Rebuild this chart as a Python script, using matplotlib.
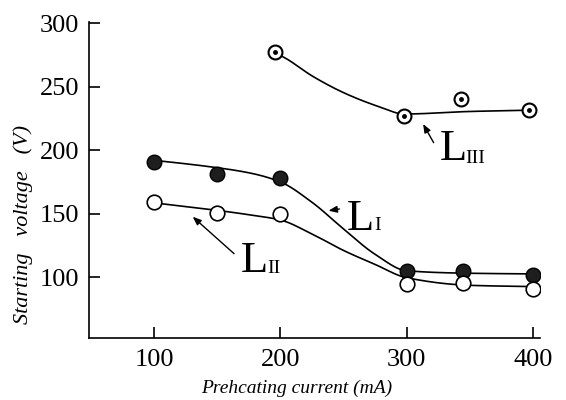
import numpy as np
import matplotlib
matplotlib.use("Agg")
import matplotlib.pyplot as plt

# ==============================
# DATA
# ==============================

# measured points
l1_x = [100, 150, 200, 300, 345, 400]
l1_y = [191, 181, 178, 105, 105, 101.5]

l2_x = [100, 150, 200, 300, 345, 400]
l2_y = [159.5, 150.5, 149.5, 94.5, 95, 90.5]

l3_x = [196, 298, 343, 397]
l3_y = [277, 227, 240, 231.5]

# hand-drawn fit curves, read at a few x positions
l1_curve_x = [100, 140, 176, 200, 225, 250, 275, 300, 350, 400]
l1_curve_y = [192, 187.5, 182, 175, 159, 138, 118, 105, 103, 102.5]

l2_curve_x = [100, 147, 176, 200, 225, 250, 275, 300, 350, 400]
l2_curve_y = [158.5, 153, 149, 145, 134, 121, 110, 99.5, 93.5, 92.5]

l3_curve_x = [196, 205, 226, 253, 279, 298, 350, 397]
l3_curve_y = [277, 272, 258, 244, 234, 228.5, 230.5, 231.5]

x_ticks = [100, 200, 300, 400]
y_ticks = [100, 150, 200, 250, 300]

FONT = "Liberation Serif"
plt.rcParams["font.family"] = FONT


def smooth(xs, ys, n=400):
    # monotone cubic (PCHIP) through the read positions, only for drawing
    xs = np.asarray(xs, float)
    ys = np.asarray(ys, float)
    h = np.diff(xs)
    d = np.diff(ys) / h
    m = np.zeros_like(ys)
    for k in range(1, len(xs) - 1):
        if d[k - 1] * d[k] > 0:
            w1 = 2 * h[k] + h[k - 1]
            w2 = h[k] + 2 * h[k - 1]
            m[k] = (w1 + w2) / (w1 / d[k - 1] + w2 / d[k])
    m[0] = d[0]
    m[-1] = d[-1]
    gx = np.linspace(xs[0], xs[-1], n)
    idx = np.clip(np.searchsorted(xs, gx) - 1, 0, len(xs) - 2)
    t = (gx - xs[idx]) / h[idx]
    h00 = 2 * t ** 3 - 3 * t ** 2 + 1
    h10 = t ** 3 - 2 * t ** 2 + t
    h01 = -2 * t ** 3 + 3 * t ** 2
    h11 = t ** 3 - t ** 2
    gy = (h00 * ys[idx] + h10 * h[idx] * m[idx]
          + h01 * ys[idx + 1] + h11 * h[idx] * m[idx + 1])
    return gx, gy


# ==============================
# FIGURE
# ==============================

fig = plt.figure(figsize=(5.66, 4.0), dpi=100)
ax = fig.add_axes([0.157, 0.155, 0.797, 0.79])

ax.set_xlim(48.4, 405.6)
ax.set_ylim(52, 301)

for name in ("top", "right"):
    ax.spines[name].set_visible(False)
for name in ("left", "bottom"):
    ax.spines[name].set_linewidth(1.2)

ax.set_xticks(x_ticks)
ax.set_yticks(y_ticks)
ax.tick_params(direction="in", length=8, width=1.2, labelsize=19)
ax.tick_params(axis="x", pad=8)
ax.tick_params(axis="y", pad=7)

# curves
for cx, cy in ((l1_curve_x, l1_curve_y), (l2_curve_x, l2_curve_y),
               (l3_curve_x, l3_curve_y)):
    sx, sy = smooth(cx, cy)
    ax.plot(sx, sy, color="black", lw=1.2, zorder=2)

# markers
ax.plot(l1_x, l1_y, "o", ms=10.5, mfc="#1e1e1e", mec="black", mew=1.0, zorder=3)
ax.plot(l2_x, l2_y, "o", ms=10.5, mfc="white", mec="black", mew=1.2, zorder=3)
ax.plot(l3_x, l3_y, "o", ms=10, mfc="white", mec="black", mew=1.5, zorder=3)
ax.plot(l3_x, l3_y, "o", ms=2.5, color="black", zorder=4)

# ==============================
# CURVE LABELS
# ==============================

arrow = dict(arrowstyle="-|>,head_length=0.5,head_width=0.2", color="black", lw=1.0)

labels = [
    # (L x, L y, sub x, sub y, sub text, arrow tail, arrow head)
    (253, 137, 274.5, 137, "I", (249, 154), (236, 152)),
    (168.7, 104, 190, 103, "II", (165, 117), (129, 149)),
    (326.5, 192, 346.5, 190, "III", (322.5, 204), (312, 222.5)),
]
for lx, ly, sx, sy, sub, tail, head in labels:
    ax.text(lx, ly, "L", fontsize=32, ha="left", va="baseline")
    ax.text(sx, sy, sub, fontsize=14, ha="left", va="baseline")
    ax.annotate("", xy=head, xytext=tail, arrowprops=arrow)

# axis titles
fig.text(297 / 566, 1 - 388 / 400, "Prehcating current (mA)",
         fontsize=14, style="italic", ha="center", va="center")
fig.text(23 / 566, 1 - 224 / 400, "Starting   voltage   (V)",
         fontsize=16, style="italic", ha="center", va="center", rotation=90)

fig.savefig("out.png", dpi=100)
